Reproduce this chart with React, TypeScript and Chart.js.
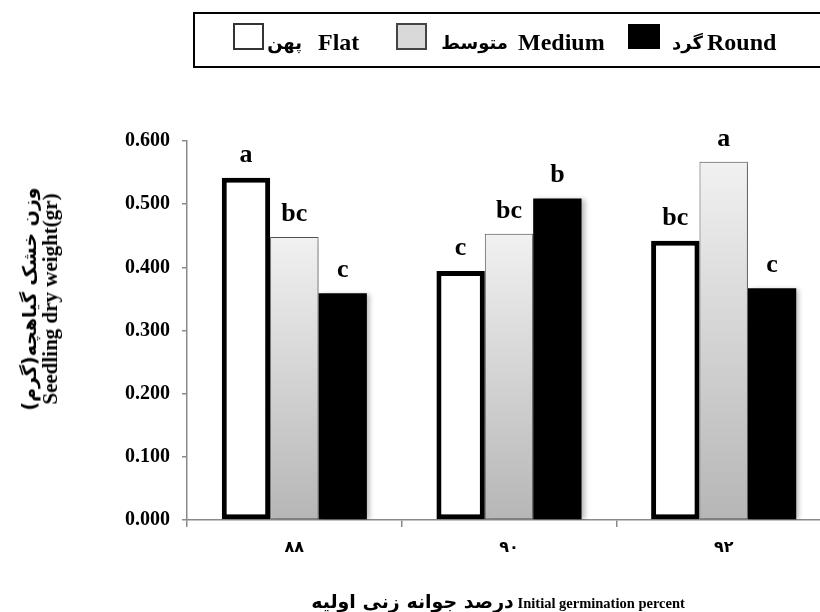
import React, { useEffect, useRef } from "react";
import { Chart, registerables } from "chart.js";

Chart.register(...registerables);

// ---- data ----
const categories = ["۸۸", "۹۰", "۹۲"];
const flatValues = [0.542, 0.394, 0.442];
const mediumValues = [0.448, 0.453, 0.567];
const roundValues = [0.359, 0.509, 0.367];
const flatLetters = ["a", "c", "bc"];
const mediumLetters = ["bc", "bc", "a"];
const roundLetters = ["c", "b", "c"];
const seriesNamesEn = ["Flat", "Medium", "Round"];
const seriesNamesFa = ["پهن", "متوسط", "گرد"];
const yTitleFa = "وزن خشک گیاهچه(گرم)";
const yTitleEn = "Seedling dry weight(gr)";
const xTitleFa = "درصد جوانه زنی اولیه";
const xTitleEn = "Initial germination percent";
const yMin = 0;
const yMax = 0.6;
const yStep = 0.1;

const SERIF = '"Liberation Serif", "Times New Roman", "DejaVu Sans", serif';
const FA = '"DejaVu Sans", sans-serif';
const AXIS_GRAY = "#8a8a8a";

const letterSets = [flatLetters, mediumLetters, roundLetters];

const shadowPlugin = {
  id: "barShadow",
  beforeDatasetsDraw(chart: any) {
    const c = chart.ctx;
    c.save();
    c.shadowColor = "rgba(0,0,0,0.28)";
    c.shadowBlur = 5;
    c.shadowOffsetX = 3;
    c.shadowOffsetY = 1;
  },
  afterDatasetsDraw(chart: any) {
    chart.ctx.restore();
  },
};

const letterPlugin = {
  id: "letters",
  afterDraw(chart: any) {
    const c = chart.ctx;
    c.save();
    c.font = `bold 26px ${SERIF}`;
    c.fillStyle = "#000";
    c.textAlign = "center";
    c.textBaseline = "alphabetic";
    chart.data.datasets.forEach((_ds: any, i: number) => {
      const meta = chart.getDatasetMeta(i);
      meta.data.forEach((bar: any, j: number) => {
        const t = letterSets[i][j];
        if (t) c.fillText(t, bar.x, bar.y - 16);
      });
    });
    c.restore();
  },
};

function ChartCanvas() {
  const ref = useRef<HTMLCanvasElement | null>(null);
  useEffect(() => {
    if (!ref.current) return;
    const mediumFill = (ctx: any) => {
      const chart = ctx.chart;
      const ys = chart.scales && chart.scales.y;
      if (!ys || ctx.raw == null) return "#d0d0d0";
      const top = ys.getPixelForValue(ctx.raw);
      const bottom = ys.getPixelForValue(0);
      if (!isFinite(top) || !isFinite(bottom)) return "#d0d0d0";
      const g = chart.ctx.createLinearGradient(0, top, 0, bottom);
      g.addColorStop(0, "#f1f1f1");
      g.addColorStop(1, "#b6b6b6");
      return g;
    };
    const chart = new Chart(ref.current, {
      type: "bar",
      data: {
        labels: categories,
        datasets: [
          {
            label: seriesNamesEn[0],
            data: flatValues,
            backgroundColor: "#ffffff",
            borderColor: "#000000",
            borderWidth: 5,
            borderSkipped: false,
            categoryPercentage: 0.676,
            barPercentage: 1,
          },
          {
            label: seriesNamesEn[1],
            data: mediumValues,
            backgroundColor: mediumFill,
            borderColor: "#555555",
            borderWidth: 1,
            borderSkipped: false,
            categoryPercentage: 0.676,
            barPercentage: 1,
          },
          {
            label: seriesNamesEn[2],
            data: roundValues,
            backgroundColor: "#000000",
            borderColor: "#000000",
            borderWidth: 0,
            categoryPercentage: 0.676,
            barPercentage: 1,
          },
        ],
      },
      options: {
        responsive: false,
        animation: false,
        devicePixelRatio: 1,
        layout: { padding: { top: 141, left: 0, right: 0, bottom: 0 } },
        plugins: {
          legend: { display: false },
          tooltip: { enabled: false },
          title: { display: false },
        },
        scales: {
          x: {
            offset: true,
            grid: {
              display: true,
              offset: true,
              drawOnChartArea: false,
              drawTicks: true,
              tickLength: 7,
              color: AXIS_GRAY,
              lineWidth: 1.5,
            },
            border: { display: true, color: AXIS_GRAY, width: 1.5 },
            ticks: {
              color: "#000",
              padding: 11,
              font: { family: SERIF, size: 16, weight: "bold" },
              maxRotation: 0,
            },
            afterFit: (s: any) => {
              s.height = 92;
            },
          },
          y: {
            min: yMin,
            max: yMax,
            grid: {
              display: true,
              drawOnChartArea: false,
              drawTicks: true,
              tickLength: 5,
              color: AXIS_GRAY,
              lineWidth: 1.5,
            },
            border: { display: true, color: AXIS_GRAY, width: 1.5 },
            ticks: {
              stepSize: yStep,
              color: "#000",
              padding: 12,
              font: { family: SERIF, size: 20, weight: "bold" },
              callback: (v: any) => Number(v).toFixed(3),
            },
            afterFit: (s: any) => {
              s.width = 187;
            },
          },
        },
      },
      plugins: [shadowPlugin, letterPlugin],
    } as any);
    return () => chart.destroy();
  }, []);
  return (
    <canvas
      ref={ref}
      width={831}
      height={612}
      style={{ position: "absolute", left: 0, top: 0, width: 831, height: 612 }}
    />
  );
}

const enText: React.CSSProperties = {
  position: "absolute",
  fontFamily: SERIF,
  fontWeight: 700,
  fontSize: 24,
  lineHeight: "24px",
  whiteSpace: "nowrap",
  color: "#000",
};
const faText: React.CSSProperties = {
  position: "absolute",
  fontFamily: FA,
  fontWeight: 700,
  fontSize: 18,
  lineHeight: "24px",
  whiteSpace: "nowrap",
  color: "#000",
  direction: "rtl",
};

function Legend() {
  const boxes = [
    { left: 233, top: 23, w: 31, h: 27, fill: "#ffffff", border: "#333" },
    { left: 396, top: 23, w: 31, h: 27, fill: "#d9d9d9", border: "#444" },
    { left: 628, top: 24, w: 32, h: 25, fill: "#000000", border: "#000" },
  ];
  const faRight = [302, 508, 703];
  const enLeft = [318, 518, 707];
  return (
    <>
      <div
        style={{
          position: "absolute",
          left: 193,
          top: 12,
          width: 700,
          height: 52,
          border: "2px solid #000",
          boxSizing: "content-box",
        }}
      />
      {boxes.map((b, i) => (
        <div
          key={"b" + i}
          style={{
            position: "absolute",
            left: b.left,
            top: b.top,
            width: b.w,
            height: b.h,
            background: b.fill,
            border: `2px solid ${b.border}`,
            boxSizing: "border-box",
          }}
        />
      ))}
      {seriesNamesFa.map((t, i) => (
        <span key={"f" + i} dir="rtl" style={{ ...faText, right: 820 - faRight[i], top: 31 }}>
          {t}
        </span>
      ))}
      {seriesNamesEn.map((t, i) => (
        <span key={"e" + i} style={{ ...enText, left: enLeft[i], top: 30 }}>
          {t}
        </span>
      ))}
    </>
  );
}

export default function App() {
  return (
    <div
      style={{
        position: "fixed",
        left: 0,
        top: 0,
        width: 820,
        height: 612,
        overflow: "hidden",
        background: "#ffffff",
      }}
    >
      <ChartCanvas />
      <Legend />
      <div
        style={{
          position: "absolute",
          left: 40,
          top: 299,
          transform: "translate(-50%, -50%) rotate(-90deg)",
          whiteSpace: "nowrap",
          textAlign: "center",
          fontWeight: 700,
          color: "#000",
        }}
      >
        <div dir="rtl" style={{ fontFamily: FA, fontSize: 19, lineHeight: "21px" }}>
          {yTitleFa}
        </div>
        <div style={{ fontFamily: SERIF, fontSize: 21, lineHeight: "21px" }}>{yTitleEn}</div>
      </div>
      <div
        style={{
          position: "absolute",
          left: 498,
          top: 592,
          transform: "translateX(-50%)",
          whiteSpace: "nowrap",
          fontWeight: 700,
          color: "#000",
          fontFamily: SERIF,
          fontSize: 15,
          lineHeight: "18px",
        }}
      >
        <span dir="rtl" style={{ fontFamily: FA, fontSize: 19, lineHeight: "18px" }}>
          {xTitleFa}
        </span>{" "}
        <span style={{ fontFamily: SERIF, fontSize: 14.5, lineHeight: "18px" }}>{xTitleEn}</span>
      </div>
    </div>
  );
}
